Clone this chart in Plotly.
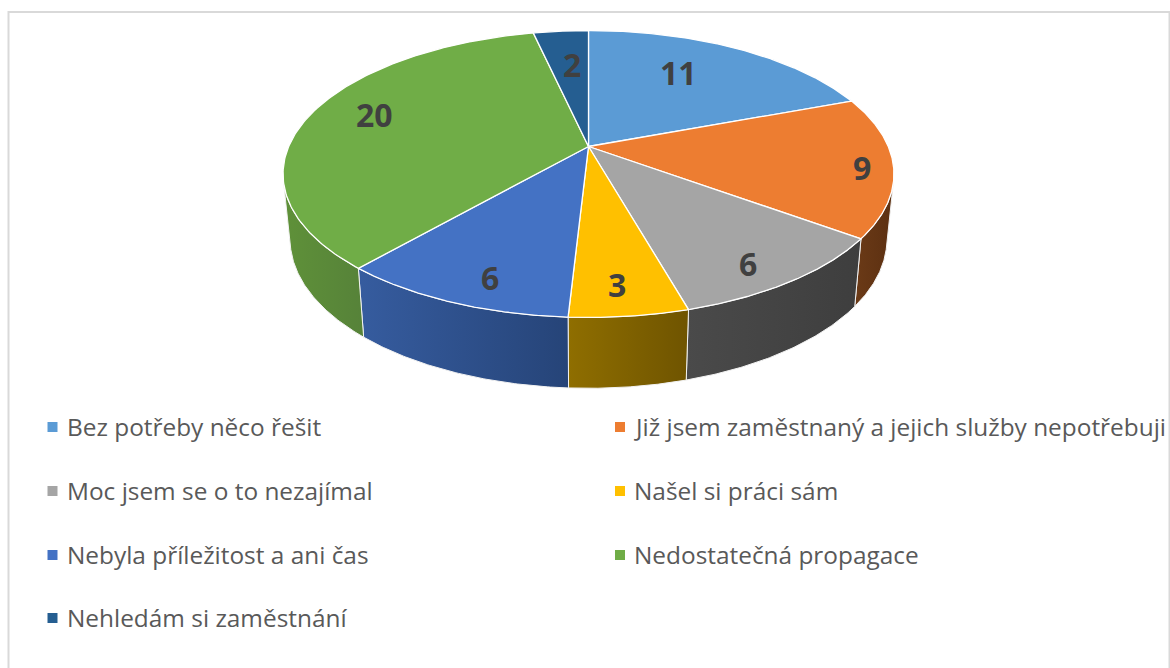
import numpy as np
import plotly.graph_objects as go

# data
categories = [
    "Bez potřeby něco řešit",
    "Již jsem zaměstnaný a jejich služby nepotřebuji",
    "Moc jsem se o to nezajímal",
    "Našel si práci sám",
    "Nebyla příležitost a ani čas",
    "Nedostatečná propagace",
    "Nehledám si zaměstnání",
]
values = [11, 9, 6, 3, 6, 20, 2]
colors = ["#5B9BD5", "#ED7D31", "#A5A5A5", "#FFC000", "#4472C4", "#70AD47", "#255E91"]
wall_left = ["#3A6A96", "#6B3A17", "#4A4A4A", "#8F6E00", "#365C9F", "#5F9139", "#1B4569"]
wall_right = ["#2E5678", "#5C3011", "#3E3E3E", "#6F5400", "#264478", "#568239", "#163A58"]

# tilted disc, drawn in pixel-sized axis units
CX, CY = 588.5, 146.5
A, B, K = 299.8, 138.2, 0.1916
WALL_X, WALL_Y, WALL_H = 0.977, 1.04, 64
WALL_FROM, WALL_TO = 105, 255  # only the front of the rim shows


def project(theta_deg, r=1.0):
    t = np.radians(theta_deg)
    u, v = r * np.sin(t), r * np.cos(t)
    d = 1 + K * v
    return A * u / d, B * v / d


def top_xy(theta_deg, r=1.0):
    x, y = project(theta_deg, r)
    return CX + x, CY - y


def bottom_xy(theta_deg):
    x, y = project(theta_deg)
    return CX + WALL_X * x, CY - (WALL_Y * y - WALL_H)


edges = 360 * np.cumsum([0] + values) / sum(values)

fig = go.Figure()

# rim first, the top of the disc covers what is left over
for i in range(len(values)):
    start, stop = max(edges[i], WALL_FROM), min(edges[i + 1], WALL_TO)
    if start >= stop:
        continue
    angles = np.linspace(start, stop, 80)
    tx, ty = top_xy(angles)
    bx, by = bottom_xy(angles[::-1])
    fig.add_trace(go.Scatter(
        x=np.r_[tx, bx, tx[0]], y=np.r_[ty, by, ty[0]],
        mode="lines", fill="toself",
        line=dict(color="#F2F2F2", width=1),
        fillgradient=dict(type="horizontal",
                          colorscale=[[0, wall_left[i]], [1, wall_right[i]]]),
        hoverinfo="skip", showlegend=False,
    ))

# top of the disc
for i in range(len(values)):
    angles = np.linspace(edges[i], edges[i + 1], 160)
    tx, ty = top_xy(angles)
    fig.add_trace(go.Scatter(
        x=np.r_[CX, tx, CX], y=np.r_[CY, ty, CY],
        mode="lines", fill="toself", fillcolor=colors[i],
        line=dict(color="white", width=1.3),
        name=categories[i], text=[str(values[i])] * 162, hoverinfo="name+text",
        showlegend=False,
    ))

# value labels
label_radius = [0.675, 0.90, 0.868, 0.847, 0.858, 0.782, 0.663]
label_shift = [-5.1, 2.4, 3.1, 1.0, -3.3, 3.2, 1.0]
for i, val in enumerate(values):
    mid = (edges[i] + edges[i + 1]) / 2 + label_shift[i]
    lx, ly = top_xy(mid, label_radius[i])
    fig.add_annotation(x=lx, y=ly - 1.5, text=str(val), showarrow=False,
                       font=dict(family="Open Sans", size=32, color="#404040", weight="bold"))

# legend, two columns
col_x = [52.5, 620]
text_x = [65, 631.5]
row_y = [427, 491, 555, 618]
for i, name in enumerate(categories):
    col, my = i % 2, row_y[i // 2]
    fig.add_trace(go.Scatter(
        x=[col_x[col]], y=[my], mode="markers",
        marker=dict(symbol="square", size=10, color=colors[i]),
        hoverinfo="skip", showlegend=False,
    ))
    fig.add_annotation(x=text_x[col], y=my - 1, text=name, showarrow=False, xanchor="left",
                       font=dict(family="Open Sans", size=24.4, color="#595959"))

# chart frame, its bottom edge runs off the picture
fig.add_shape(type="rect", x0=8.5, y0=12, x1=1169.5, y1=700,
              line=dict(color="#D9D9D9", width=2), layer="below")

fig.update_xaxes(visible=False, range=[0, 1170], fixedrange=True)
fig.update_yaxes(visible=False, range=[668, 0], fixedrange=True)
fig.update_layout(
    width=1170, height=668,
    margin=dict(l=0, r=0, t=0, b=0),
    paper_bgcolor="white", plot_bgcolor="white",
)

fig.write_html("out.html", post_script="document.body.style.margin = 0;",
               config=dict(displayModeBar=False))
